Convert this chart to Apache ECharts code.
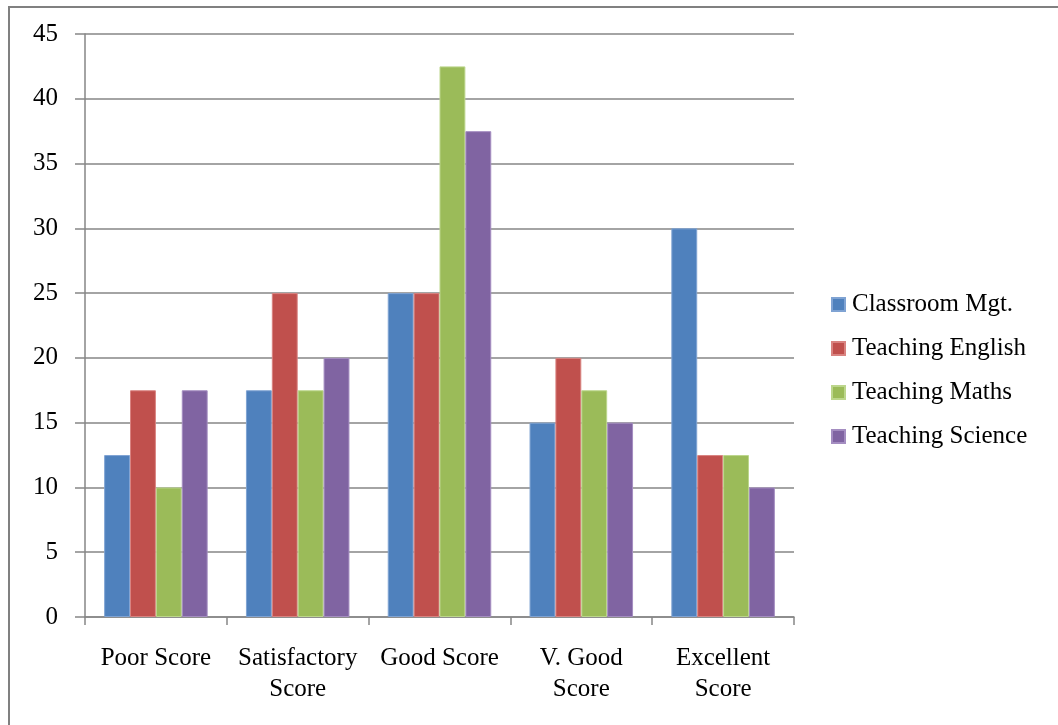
<!DOCTYPE html>
<html>
<head>
<meta charset="utf-8">
<script src="https://cdn.jsdelivr.net/npm/echarts@6/dist/echarts.min.js"></script>
<style>
  html, body { margin: 0; padding: 0; background: #fff; }
  #chart { width: 1058px; height: 725px; }
</style>
</head>
<body>
<div id="chart"></div>
<script>
// Score bands on the category axis
const categories = ['Poor Score', 'Satisfactory\nScore', 'Good Score', 'V. Good\nScore', 'Excellent\nScore'];

// Percentages per teaching area
const classroomMgt = [12.5, 17.5, 25, 15, 30];
const teachingEnglish = [17.5, 25, 25, 20, 12.5];
const teachingMaths = [10, 17.5, 42.5, 17.5, 12.5];
const teachingScience = [17.5, 20, 37.5, 15, 10];

const seriesNames = ['Classroom Mgt.', 'Teaching English', 'Teaching Maths', 'Teaching Science'];
const seriesData = [classroomMgt, teachingEnglish, teachingMaths, teachingScience];
const colors = ['#4F81BD', '#C0504D', '#9BBB59', '#8064A2'];
const borders = ['#7FA3D3', '#D98380', '#BCD68C', '#A48DC1'];

const font = 'Liberation Serif, Times New Roman, serif';
const chart = echarts.init(document.getElementById('chart'), null, { renderer: 'canvas' });

chart.setOption({
  animation: false,
  backgroundColor: '#fff',
  graphic: [{
    type: 'rect',
    shape: { x: 9, y: 7, width: 1100, height: 760 },
    style: { fill: 'none', stroke: '#808080', lineWidth: 2 },
    silent: true
  }],
  grid: { left: 85, right: 264, top: 34, bottom: 108, containLabel: false },
  legend: {
    orient: 'vertical',
    left: 831,
    top: 292,
    padding: 0,
    itemWidth: 13,
    itemHeight: 13,
    itemGap: 19,
    icon: 'rect',
    textStyle: { fontFamily: font, fontSize: 25, color: '#000', padding: [0, 0, 0, 2] },
    data: seriesNames
  },
  xAxis: {
    type: 'category',
    data: categories,
    axisLine: { lineStyle: { color: '#868686', width: 1.5 } },
    axisTick: { show: true, length: 8, alignWithLabel: false, lineStyle: { color: '#868686', width: 1.5 } },
    axisLabel: { fontFamily: font, fontSize: 25, color: '#000', margin: 26, lineHeight: 31, interval: 0 }
  },
  yAxis: {
    type: 'value',
    min: 0,
    max: 45,
    interval: 5,
    axisLine: { show: true, lineStyle: { color: '#868686', width: 1.5 } },
    axisTick: { show: true, length: 10, lineStyle: { color: '#868686', width: 1.5 } },
    splitLine: { lineStyle: { color: '#868686', width: 1.5 } },
    axisLabel: { fontFamily: font, fontSize: 25, color: '#000', margin: 27 }
  },
  series: seriesData.map((d, i) => ({
    name: seriesNames[i],
    type: 'bar',
    data: d,
    barGap: '0%',
    barCategoryGap: '27%',
    itemStyle: { color: colors[i], borderColor: borders[i], borderWidth: 1 }
  }))
});
</script>
</body>
</html>
